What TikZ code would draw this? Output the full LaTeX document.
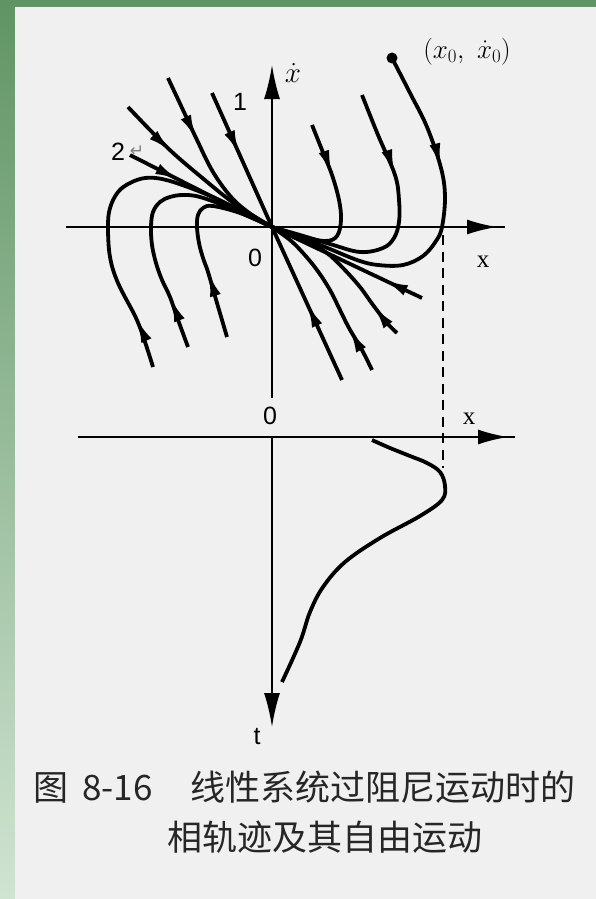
\RequirePackage{fix-cm}
\documentclass[tikz,border=0pt]{standalone}
\usepackage{fontspec}
\usepackage{tikz}
\usetikzlibrary{arrows.meta, decorations.markings}
\newfontfamily\cjk{Noto Sans CJK SC}
\newfontfamily\lsans{Liberation Sans}
\newfontfamily\lserif{Liberation Serif}
\newfontfamily\dejavu{DejaVu Sans}
\definecolor{panel}{RGB}{240,240,240}
\definecolor{leafdark}{RGB}{96,148,100}
\definecolor{leaflight}{RGB}{208,228,210}
\tikzset{
  axis/.style={line width=1.9pt},
  traj/.style={line width=3.8pt, line join=round},
  midarrow/.style={postaction={decorate},
    decoration={markings, mark=at position #1 with {\arrow{Latex[length=25pt,width=11pt]}}}},
  axistip/.style={postaction={decorate},
    decoration={markings, mark=at position #1 with {\arrow{Latex[length=30pt,width=15pt]}}}},
  lbl/.style={inner sep=0pt, font=\fontsize{25}{27}\selectfont\lsans},
  xlbl/.style={inner sep=0pt, font=\fontsize{25}{27}\selectfont\lserif},
  caption/.style={inner sep=0pt, text=black!85, font=\fontsize{35}{40}\selectfont\cjk},
}

\begin{document}
\begin{tikzpicture}[x=1pt, y=-1pt]
    \useasboundingbox (0,0) rectangle (596,899);
    % 背景
    \shade[top color=leafdark, bottom color=leaflight] (0,0) rectangle (596,899);
    \fill[panel] (15,7) rectangle (596,899);

    % 相平面：坐标轴
    \coordinate (O) at (272,227);
    \draw[axis, axistip=-8pt] (66,227) -- (505,227);
    \draw[axis, -{Latex[length=34pt,width=16pt]}] (272,398) -- (272,65);
    \node[lbl] (o1) at (255,258) {0};
    \node[xlbl] (x1) at (483,262) {x};
    \node[inner sep=0pt, font=\fontsize{29}{31}\selectfont] (xdot) at (293,73) {$\dot{x}$};
    \node[lbl] (one) at (240,102) {1};
    \node[lbl] (two) at (118,152) {2};
    \node[inner sep=0pt, text=black!50, font=\fontsize{17}{19}\selectfont\dejavu] (ret) at (137,151) {↵};
    \node[inner sep=0pt, font=\fontsize{27}{29}\selectfont] (init) at (467,52) {$(x_0,\ \dot{x}_0)$};
    \node[circle, fill, inner sep=0pt, minimum size=11pt] (x0dot) at (392,58) {};

    % 直线轨迹 1 和 2
    \draw[traj, midarrow=68pt] (212,93) -- (O);
    \draw[traj, midarrow=85pt] (342,380) -- (O);
    \draw[traj, midarrow=56pt] (130,155) -- (O);
    \draw[traj, midarrow=43pt] (422,298) -- (O);

    % 左上
    \draw[traj, midarrow=68pt] plot[smooth, tension=0.6] coordinates {(168,78) (183,110) (197,140) (213,172) (232,198) (252,215) (272,227)};
    \draw[traj, midarrow=63pt] plot[smooth, tension=0.6] coordinates {(128,107) (150,130) (172,152) (200,176) (235,204) (272,227)};

    % 左侧：从下方绕回
    \draw[traj, midarrow=52pt] plot[smooth, tension=0.6] coordinates {(153,367) (145,342) (136,318) (118,283) (110,257) (108,227) (110,208) (118,192) (130,183) (145,178) (162,179) (185,186) (215,198) (245,213) (272,227)};
    \draw[traj, midarrow=53pt] plot[smooth, tension=0.6] coordinates {(188,347) (177,317) (170,297) (162,280) (156,263) (152,245) (151,227) (153,212) (160,202) (170,197) (183,195) (200,197) (230,208) (272,227)};
    \draw[traj, midarrow=68pt] plot[smooth, tension=0.6] coordinates {(227,337) (217,303) (208,272) (203,258) (199,243) (197,227) (198,215) (203,208) (213,206) (240,213) (272,227)};

    % 右侧：从上方绕回
    \draw[traj, midarrow=121pt] plot[smooth, tension=0.6] coordinates {(392,58) (410,93) (427,127) (441,168) (445,197) (442,227) (436,241) (423,256) (403,265) (378,265) (357,260) (320,245) (272,227)};
    \draw[traj, midarrow=86pt] plot[smooth, tension=0.6] coordinates {(362,95) (378,135) (395,175) (399,200) (399,222) (394,238) (383,248) (360,252) (330,244) (300,235) (272,227)};
    \draw[traj, midarrow=54pt] plot[smooth, tension=0.6] coordinates {(312,125) (322,150) (332,175) (339,200) (341,220) (337,236) (325,241) (300,236) (272,227)};

    % 右下
    \draw[traj, midarrow=37pt] plot[smooth, tension=0.6] coordinates {(397,333) (387,323) (373,305) (360,287) (343,268) (327,253) (310,243) (293,235) (272,227)};
    \draw[traj, midarrow=48pt] plot[smooth, tension=0.6] coordinates {(372,370) (362,350) (349,328) (340,310) (330,290) (317,270) (303,253) (290,240) (272,227)};

    % 自由运动 x(t)
    \coordinate (O2) at (272,437);
    \draw[axis, axistip=-7pt] (78,437) -- (515,437);
    \draw[axis, -{Latex[length=34pt,width=16pt]}] (O2) -- (272,727);
    \node[lbl] (o2) at (270,416) {0};
    \node[xlbl] (x2) at (469,419) {x};
    \node[lbl] (t) at (257,737) {t};
    \draw[traj] plot[smooth, tension=0.6] coordinates {(372,440) (390,448) (410,456) (427,463) (440,472) (445,486) (442,500) (420,516) (380,538) (345,562) (323,587) (310,612) (300,642) (282,682)};
    \coordinate (cross) at (443,235);
    \coordinate (peak) at (443,468);
    \draw[line width=1.5pt, dash pattern=on 10pt off 6.5pt] (cross) -- (peak);

    % 图题
    \node[caption, anchor=west] (cap1) at (33,787) {图\hspace{14pt}8-16\hspace{38pt}线性系统过阻尼运动时的};
    \node[caption] (cap2) at (325,837) {相轨迹及其自由运动};
\end{tikzpicture}
\end{document}
